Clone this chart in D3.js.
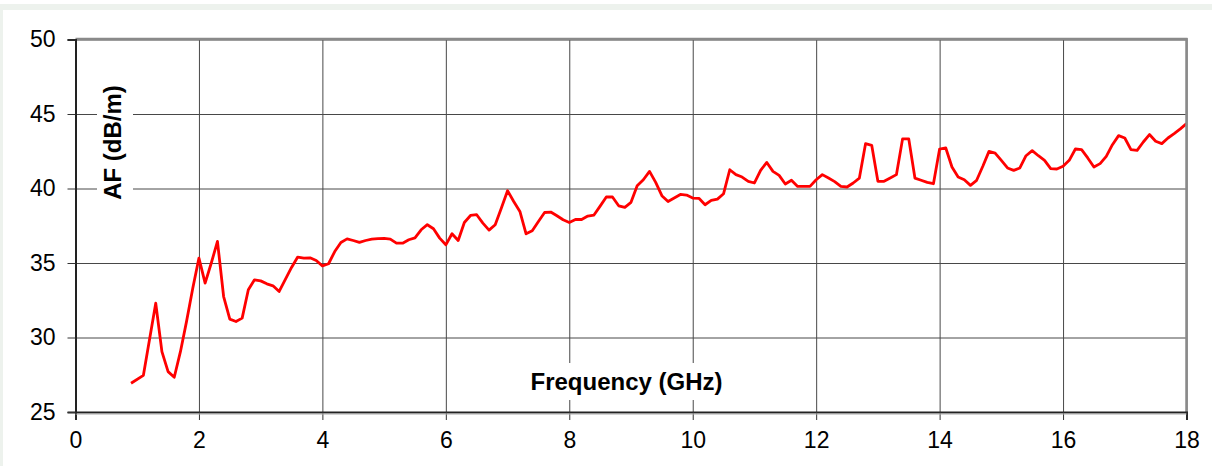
<!DOCTYPE html>
<html>
<head>
<meta charset="utf-8">
<script src="https://cdn.jsdelivr.net/npm/d3@7"></script>
<style>
  html, body { margin: 0; padding: 0; background: #ffffff; }
  svg { display: block; font-family: "Liberation Sans", Arial, sans-serif; }
</style>
</head>
<body>
<svg id="chart" width="1212" height="466"></svg>
<script>
// ---- Data ----
const frequencies = [
  0.9, 1.1, 1.3, 1.4, 1.5, 1.6, 1.7, 1.8, 1.9, 2.0,
  2.1, 2.2, 2.3, 2.4, 2.5, 2.6, 2.7, 2.8, 2.9, 3.0,
  3.1, 3.2, 3.3, 3.4, 3.5, 3.6, 3.7, 3.8, 3.9, 4.0,
  4.1, 4.2, 4.3, 4.4, 4.5, 4.6, 4.7, 4.8, 4.9, 5.0,
  5.1, 5.2, 5.3, 5.4, 5.5, 5.6, 5.7, 5.8, 5.9, 6.0,
  6.1, 6.2, 6.3, 6.4, 6.5, 6.6, 6.7, 6.8, 6.9, 7.0,
  7.1, 7.2, 7.3, 7.4, 7.5, 7.6, 7.7, 7.8, 7.9, 8.0,
  8.1, 8.2, 8.3, 8.4, 8.5, 8.6, 8.7, 8.8, 8.9, 9.0,
  9.1, 9.2, 9.3, 9.4, 9.5, 9.6, 9.7, 9.8, 9.9, 10.0,
  10.1, 10.2, 10.3, 10.4, 10.5, 10.6, 10.7, 10.8, 10.9, 11.0,
  11.1, 11.2, 11.3, 11.4, 11.5, 11.6, 11.7, 11.8, 11.9, 12.0,
  12.1, 12.2, 12.3, 12.4, 12.5, 12.6, 12.7, 12.8, 12.9, 13.0,
  13.1, 13.2, 13.3, 13.4, 13.5, 13.6, 13.7, 13.8, 13.9, 14.0,
  14.1, 14.2, 14.3, 14.4, 14.5, 14.6, 14.7, 14.8, 14.9, 15.0,
  15.1, 15.2, 15.3, 15.4, 15.5, 15.6, 15.7, 15.8, 15.9, 16.0,
  16.1, 16.2, 16.3, 16.4, 16.5, 16.6, 16.7, 16.8, 16.9, 17.0,
  17.1, 17.2, 17.3, 17.4, 17.5, 17.6, 17.7, 17.8, 17.9, 18.0
];
const afValues = [
  26.93, 27.46, 32.30, 29.05, 27.71, 27.33, 29.05, 31.10, 33.30, 35.33,
  33.65, 35.00, 36.45, 32.75, 31.23, 31.07, 31.30, 33.20, 33.87, 33.80,
  33.60, 33.47, 33.09, 33.90, 34.70, 35.40, 35.33, 35.35, 35.17, 34.81,
  34.95, 35.77, 36.38, 36.62, 36.51, 36.38, 36.51, 36.60, 36.64, 36.65,
  36.60, 36.33, 36.33, 36.56, 36.69, 37.23, 37.57, 37.30, 36.67, 36.22,
  36.96, 36.51, 37.72, 38.19, 38.24, 37.68, 37.21, 37.57, 38.69, 39.85,
  39.13, 38.46, 36.96, 37.16, 37.79, 38.39, 38.42, 38.17, 37.90, 37.72,
  37.92, 37.92, 38.15, 38.22, 38.82, 39.43, 39.43, 38.84, 38.73, 39.07,
  40.19, 40.59, 41.15, 40.41, 39.52, 39.13, 39.36, 39.60, 39.56, 39.36,
  39.34, 38.91, 39.20, 39.29, 39.65, 41.26, 40.93, 40.77, 40.48, 40.37,
  41.22, 41.75, 41.15, 40.88, 40.30, 40.55, 40.14, 40.14, 40.14, 40.59,
  40.93, 40.70, 40.46, 40.14, 40.10, 40.37, 40.70, 43.01, 42.90, 40.48,
  40.48, 40.70, 40.93, 43.33, 43.33, 40.70, 40.55, 40.41, 40.32, 42.65,
  42.72, 41.44, 40.77, 40.59, 40.21, 40.55, 41.49, 42.49, 42.38, 41.89,
  41.38, 41.22, 41.38, 42.20, 42.54, 42.20, 41.89, 41.33, 41.31, 41.49,
  41.89, 42.65, 42.61, 42.05, 41.44, 41.67, 42.16, 42.94, 43.55, 43.39,
  42.61, 42.56, 43.12, 43.62, 43.17, 43.01, 43.39, 43.68, 44.00, 44.35
];
const xTicks = [0, 2, 4, 6, 8, 10, 12, 14, 16, 18];
const yTicks = [25, 30, 35, 40, 45, 50];
const xTitle = "Frequency (GHz)";
const yTitle = "AF (dB/m)";

// ---- Layout ----
const svg = d3.select("#chart");
const L = 75.5, R = 1186.5, T = 39.5, B = 412;
const x = d3.scaleLinear().domain([0, 18]).range([L, R]);
const y = d3.scaleLinear().domain([25, 50]).range([B, T]);

// page frame (light band)
svg.append("rect").attr("x", 0).attr("y", 4).attr("width", 1212).attr("height", 6).attr("fill", "#edf2ed");
svg.append("rect").attr("x", 0).attr("y", 4).attr("width", 3).attr("height", 462).attr("fill", "#edf2ed");

// gridlines
const gridX = svg.append("g").attr("transform", `translate(0,${B})`)
  .call(d3.axisBottom(x).tickValues(xTicks).tickSize(-(B - T)).tickFormat(""));
gridX.select(".domain").remove();
gridX.selectAll("line").attr("stroke", "#484848").attr("stroke-width", 1);

const gridY = svg.append("g").attr("transform", `translate(${L},0)`)
  .call(d3.axisLeft(y).tickValues(yTicks).tickSize(-(R - L)).tickFormat(""));
gridY.select(".domain").remove();
gridY.selectAll("line").attr("stroke", "#484848").attr("stroke-width", 1);

// title boxes (break gridlines)
svg.append("rect").attr("x", 527).attr("y", 363).attr("width", 199).attr("height", 37).attr("fill", "#fff");
svg.append("rect").attr("x", 97).attr("y", 82).attr("width", 36).attr("height", 121).attr("fill", "#fff");

// titles
svg.append("text").attr("x", 626.5).attr("y", 390)
  .attr("text-anchor", "middle").attr("font-weight", "bold").attr("font-size", 24).attr("fill", "#000")
  .text(xTitle);
svg.append("text").attr("transform", "translate(121,142.5) rotate(-90)")
  .attr("text-anchor", "middle").attr("font-weight", "bold").attr("font-size", 24).attr("fill", "#000")
  .text(yTitle);

// data line
const line = d3.line().x((d, i) => x(frequencies[i])).y(d => y(d));
svg.append("path").datum(afValues)
  .attr("d", line).attr("fill", "none").attr("stroke", "#ff0000")
  .attr("stroke-width", 2.8).attr("stroke-linejoin", "round");

// frame: top & right gray
svg.append("line").attr("x1", L).attr("x2", R + 1).attr("y1", T - 0.5).attr("y2", T - 0.5)
  .attr("stroke", "#8a8a8a").attr("stroke-width", 2.5);
svg.append("line").attr("x1", R).attr("x2", R).attr("y1", T - 1.5).attr("y2", B)
  .attr("stroke", "#8a8a8a").attr("stroke-width", 2.5);

// axes
const axX = svg.append("g").attr("transform", `translate(0,${B})`)
  .call(d3.axisBottom(x).tickValues(xTicks).tickSize(8).tickPadding(12).tickFormat(d3.format("d")));
axX.select(".domain").attr("stroke", "#222").attr("stroke-width", 2);
axX.selectAll(".tick line").attr("stroke", "#333").attr("stroke-width", 1);
axX.selectAll("text").attr("font-size", 23).attr("fill", "#000").attr("font-family", "Liberation Sans, Arial, sans-serif");

svg.append("line").attr("x1", L).attr("x2", R).attr("y1", B + 2).attr("y2", B + 2)
  .attr("stroke", "#aaa").attr("stroke-width", 1);

const axY = svg.append("g").attr("transform", `translate(${L},0)`)
  .call(d3.axisLeft(y).tickValues(yTicks).tickSize(8).tickPadding(12).tickFormat(d3.format("d")));
axY.select(".domain").attr("stroke", "#222").attr("stroke-width", 2);
axY.selectAll(".tick line").attr("stroke", "#333").attr("stroke-width", 1);
axY.selectAll("text").attr("font-size", 23).attr("fill", "#000").attr("font-family", "Liberation Sans, Arial, sans-serif");
</script>
</body>
</html>
